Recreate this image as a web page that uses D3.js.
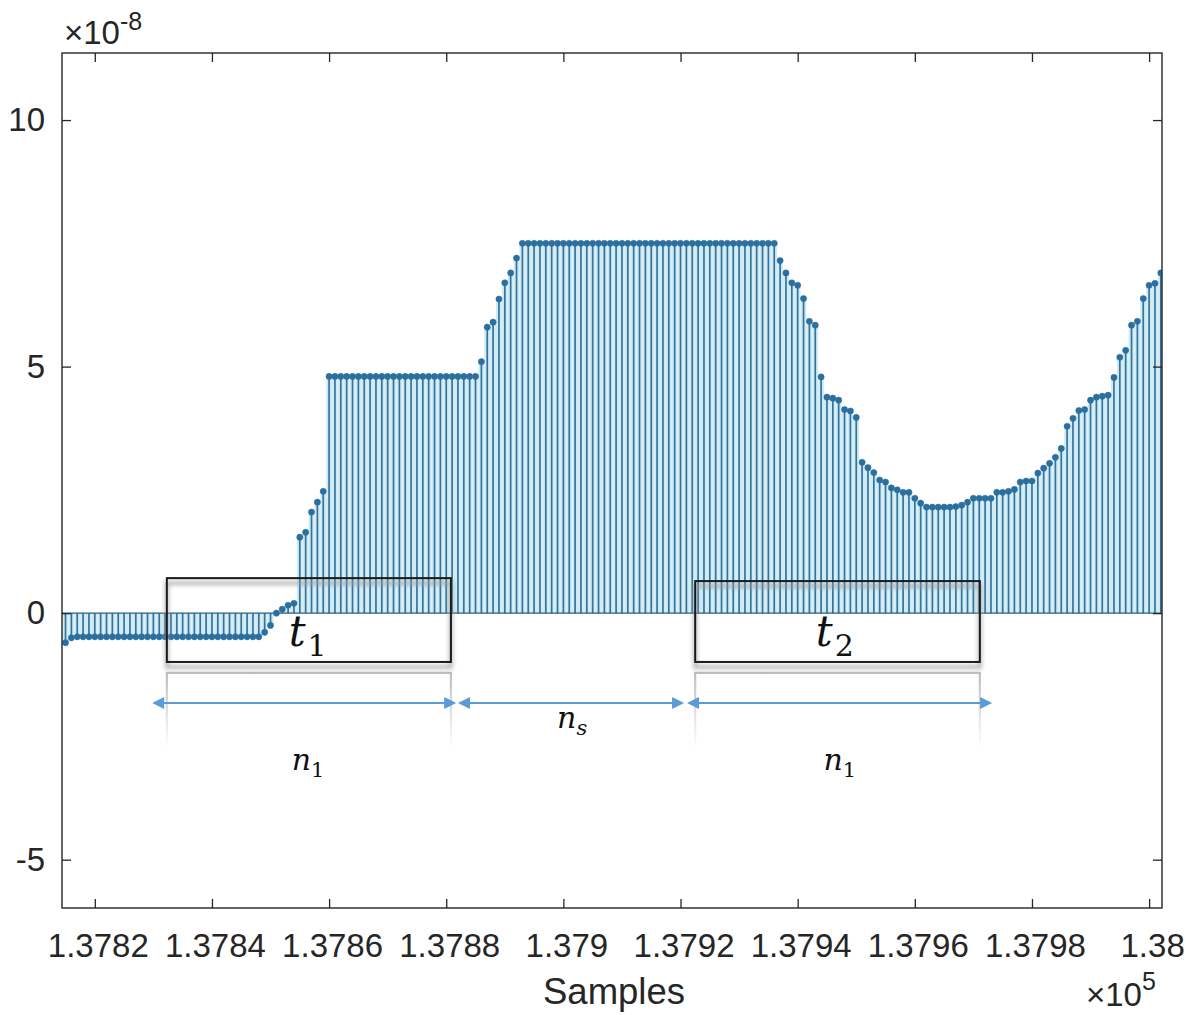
<!DOCTYPE html>
<html>
<head>
<meta charset="utf-8">
<script src="https://cdn.jsdelivr.net/npm/d3@7"></script>
<style>
  html, body { margin: 0; padding: 0; background: #fff; }
  svg { display: block; }
</style>
</head>
<body>
<svg id="chart" width="1186" height="1015"></svg>
<script>
// ---- data -------------------------------------------------------------
// consecutive sample indices start here; one value per sample (units of 1e-8)
const sampleStart = 137815;
const values = [
  -0.6, -0.5,
  -0.48, -0.48, -0.48, -0.48, -0.48, -0.48, -0.48, -0.48,
  -0.48, -0.48, -0.48, -0.48, -0.48, -0.48, -0.48, -0.48,
  -0.48, -0.48, -0.48, -0.48, -0.48, -0.48, -0.48, -0.48,
  -0.48, -0.48, -0.48, -0.48, -0.48, -0.48, -0.48, -0.48,
  -0.39, -0.25, 0.0, 0.08, 0.16, 0.2,
  1.54, 1.64, 2.05, 2.25, 2.47,
  4.8, 4.8, 4.8, 4.8, 4.8, 4.8, 4.8, 4.8, 4.8, 4.8, 4.8, 4.8, 4.8,
  4.8, 4.8, 4.8, 4.8, 4.8, 4.8, 4.8, 4.8, 4.8, 4.8, 4.8, 4.8, 4.8,
  5.1, 5.8, 5.9, 6.37, 6.7, 6.9, 7.2,
  7.5, 7.5, 7.5, 7.5, 7.5, 7.5, 7.5, 7.5, 7.5, 7.5, 7.5,
  7.5, 7.5, 7.5, 7.5, 7.5, 7.5, 7.5, 7.5, 7.5, 7.5, 7.5,
  7.5, 7.5, 7.5, 7.5, 7.5, 7.5, 7.5, 7.5, 7.5, 7.5, 7.5,
  7.5, 7.5, 7.5, 7.5, 7.5, 7.5, 7.5, 7.5, 7.5, 7.5, 7.5,
  7.15, 6.9, 6.7, 6.65, 6.38, 5.92, 5.84, 4.79, 4.38, 4.36, 4.32,
  4.13, 4.1, 3.97, 3.06, 2.95, 2.85, 2.7, 2.66, 2.54, 2.5, 2.45,
  2.45, 2.33, 2.23, 2.15, 2.15, 2.15, 2.15, 2.15, 2.16, 2.19, 2.25,
  2.33, 2.33, 2.33, 2.33, 2.45, 2.45, 2.47, 2.51, 2.66, 2.68, 2.68,
  2.84, 2.94, 3.04, 3.16, 3.34, 3.79, 3.95, 4.11, 4.13, 4.32, 4.38,
  4.40, 4.42, 4.78, 5.19, 5.33, 5.84, 5.92, 6.38, 6.65, 6.69, 6.9
];

const xTicks = [137820, 137840, 137860, 137880, 137900, 137920, 137940, 137960, 137980, 138000];
const yTicks = [-5, 0, 5, 10];
const xDomain = [137814.4, 138002.2];
const yDomain = [-5.98, 11.36];

// window boxes (data units) with their labels
const windows = [
  { x0: 137832.3, x1: 137880.8, y0: -0.99, y1: 0.71, name: "t", sub: "1", lx: 137853.1, ly: -0.66 },
  { x0: 137922.5, x1: 137971.1, y0: -0.99, y1: 0.65, name: "t", sub: "2", lx: 137943.1, ly: -0.66 }
];
// double-headed span arrows
const spans = [
  { from: 137829.8, to: 137881.7 },
  { from: 137882.0, to: 137920.6 },
  { from: 137921.1, to: 137973.2 }
];
const spanY = -1.82;
const bracketTop = -1.21, bracketBottom = -2.75;
const spanLabels = [
  { x: 137856.4, y: -3.18, name: "n", sub: "1" },
  { x: 137901.5, y: -2.33, name: "n", sub: "s" },
  { x: 137947.2, y: -3.18, name: "n", sub: "1" }
];

// ---- layout -----------------------------------------------------------
const svg = d3.select("#chart");
const L = 62, R = 1162, T = 53, B = 908;
const x = d3.scaleLinear().domain(xDomain).range([L, R]);
const y = d3.scaleLinear().domain(yDomain).range([B, T]);
const axisColor = "#262626";
const labelFont = "'Liberation Sans', Arial, Helvetica, sans-serif";
const mathFont = "'DejaVu Serif', 'Liberation Serif', serif";

const pts = values.map((v, i) => ({ s: sampleStart + i, v }));

const defs = svg.append("defs");
defs.append("clipPath").attr("id", "plotClip")
  .append("rect").attr("x", L).attr("y", T).attr("width", R - L).attr("height", B - T);
defs.append("filter").attr("id", "soft").attr("x", "-10%").attr("y", "-20%")
  .attr("width", "120%").attr("height", "140%")
  .append("feGaussianBlur").attr("stdDeviation", 2.2);
const grad = defs.append("linearGradient").attr("id", "fadeDown")
  .attr("gradientUnits", "userSpaceOnUse")
  .attr("x1", 0).attr("x2", 0).attr("y1", y(bracketTop)).attr("y2", y(bracketBottom));
grad.append("stop").attr("offset", 0).attr("stop-color", "#bdbdbd");
grad.append("stop").attr("offset", 0.6).attr("stop-color", "#e6e6e6");
grad.append("stop").attr("offset", 1).attr("stop-color", "#ffffff");

const plot = svg.append("g").attr("clip-path", "url(#plotClip)");

// ---- stems ------------------------------------------------------------
const step = x(sampleStart + 1) - x(sampleStart);
// pale tint that fills between neighbouring stems
plot.append("g").selectAll("line").data(pts).join("line")
  .attr("x1", d => x(d.s)).attr("x2", d => x(d.s))
  .attr("y1", y(0)).attr("y2", d => y(d.v))
  .attr("stroke", "#d0ebf3").attr("stroke-width", step);

plot.append("g").selectAll("line").data(pts).join("line")
  .attr("x1", d => x(d.s)).attr("x2", d => x(d.s))
  .attr("y1", y(0)).attr("y2", d => y(d.v))
  .attr("stroke", "#33749f").attr("stroke-width", 1.7);

// baseline at zero
plot.append("line")
  .attr("x1", L).attr("x2", R).attr("y1", y(0)).attr("y2", y(0))
  .attr("stroke", "#2d5f80").attr("stroke-width", 1.4);

plot.append("g").selectAll("circle").data(pts).join("circle")
  .attr("cx", d => x(d.s)).attr("cy", d => y(d.v)).attr("r", 3.1)
  .attr("fill", "#2b6f9f").attr("stroke", "#2b6f9f").attr("stroke-width", 0.5);

// ---- axes -------------------------------------------------------------
const xAxis = d3.axisBottom(x).tickValues(xTicks).tickSizeInner(-9).tickSizeOuter(0).tickPadding(26)
  .tickFormat(d => String(+(d / 1e5).toFixed(4)));
const yAxis = d3.axisLeft(y).tickValues(yTicks).tickSizeInner(-9).tickSizeOuter(0).tickPadding(17)
  .tickFormat(d => String(d));

const gx = svg.append("g").attr("transform", `translate(0,${B})`).call(xAxis);
const gy = svg.append("g").attr("transform", `translate(${L},0)`).call(yAxis);
svg.append("g").attr("transform", `translate(0,${T})`)
  .call(d3.axisTop(x).tickValues(xTicks).tickSizeInner(-9).tickSizeOuter(0).tickFormat(""));
svg.append("g").attr("transform", `translate(${R},0)`)
  .call(d3.axisRight(y).tickValues(yTicks).tickSizeInner(-9).tickSizeOuter(0).tickFormat(""));

svg.selectAll(".domain").remove();
svg.selectAll(".tick line").attr("stroke", axisColor).attr("stroke-width", 1.3);
gx.selectAll(".tick text").attr("dx", 3);
[gx, gy].forEach(g => g.selectAll(".tick text")
  .attr("fill", axisColor).style("font-family", labelFont).style("font-size", "33px"));

svg.append("rect").attr("x", L).attr("y", T).attr("width", R - L).attr("height", B - T)
  .attr("fill", "none").attr("stroke", axisColor).attr("stroke-width", 1.4);

// exponent markers
const expY = svg.append("text").attr("x", 64).attr("y", 44)
  .attr("fill", axisColor).style("font-family", labelFont).style("font-size", "33px");
expY.append("tspan").text("\u00d710");
expY.append("tspan").attr("dy", -14).style("font-size", "25px").text("-8");

const expX = svg.append("text").attr("x", 1086).attr("y", 1006)
  .attr("fill", axisColor).style("font-family", labelFont).style("font-size", "33px");
expX.append("tspan").text("\u00d710");
expX.append("tspan").attr("dy", -16).style("font-size", "25px").text("5");

svg.append("text").attr("x", (L + R) / 2 + 2).attr("y", 1004).attr("text-anchor", "middle")
  .attr("fill", axisColor).style("font-family", labelFont).style("font-size", "36.5px")
  .text("Samples");

// ---- annotations ------------------------------------------------------
const ann = svg.append("g");

// brackets under each window
windows.forEach(w => {
  ann.append("path")
    .attr("d", `M${x(w.x0)},${y(bracketBottom)}V${y(bracketTop)}H${x(w.x1)}V${y(bracketBottom)}`)
    .attr("fill", "none").attr("stroke", "url(#fadeDown)").attr("stroke-width", 2.2);
});

// soft shadow then the window outline
windows.forEach(w => {
  ann.append("rect")
    .attr("x", x(w.x0)).attr("y", y(w.y1) + 5)
    .attr("width", x(w.x1) - x(w.x0)).attr("height", y(w.y0) - y(w.y1))
    .attr("fill", "none").attr("stroke", "#9a9a9a").attr("stroke-width", 4)
    .attr("opacity", 0.7).attr("filter", "url(#soft)");
  ann.append("rect")
    .attr("x", x(w.x0)).attr("y", y(w.y1))
    .attr("width", x(w.x1) - x(w.x0)).attr("height", y(w.y0) - y(w.y1))
    .attr("fill", "none").attr("stroke", "#1a1a1a").attr("stroke-width", 2);

  const t = ann.append("text").attr("x", x(w.lx)).attr("y", y(w.ly))
    .attr("fill", "#111").style("font-family", mathFont);
  t.append("tspan").style("font-style", "italic").style("font-size", "42px").text(w.name);
  t.append("tspan").attr("dy", 10).attr("dx", 2).style("font-size", "30px").text(w.sub);
});

// span arrows
const arrowColor = "#5b9bd5";
const ay = y(spanY);
const headLen = 12, headHalf = 6;
spans.forEach(sp => {
  const a = x(sp.from), b = x(sp.to);
  ann.append("line").attr("x1", a + headLen - 1).attr("x2", b - headLen + 1)
    .attr("y1", ay).attr("y2", ay)
    .attr("stroke", arrowColor).attr("stroke-width", 2);
  ann.append("path")
    .attr("d", `M${a},${ay}L${a + headLen},${ay - headHalf}L${a + headLen},${ay + headHalf}Z`)
    .attr("fill", arrowColor);
  ann.append("path")
    .attr("d", `M${b},${ay}L${b - headLen},${ay - headHalf}L${b - headLen},${ay + headHalf}Z`)
    .attr("fill", arrowColor);
});

spanLabels.forEach(lb => {
  const t = ann.append("text").attr("x", x(lb.x)).attr("y", y(lb.y)).attr("text-anchor", "middle")
    .attr("fill", "#111").style("font-family", mathFont);
  t.append("tspan").style("font-style", "italic").style("font-size", "30px").text(lb.name);
  t.append("tspan").attr("dy", 7).style("font-size", "21px")
    .style("font-style", lb.sub === "s" ? "italic" : "normal").text(lb.sub);
});
</script>
</body>
</html>
